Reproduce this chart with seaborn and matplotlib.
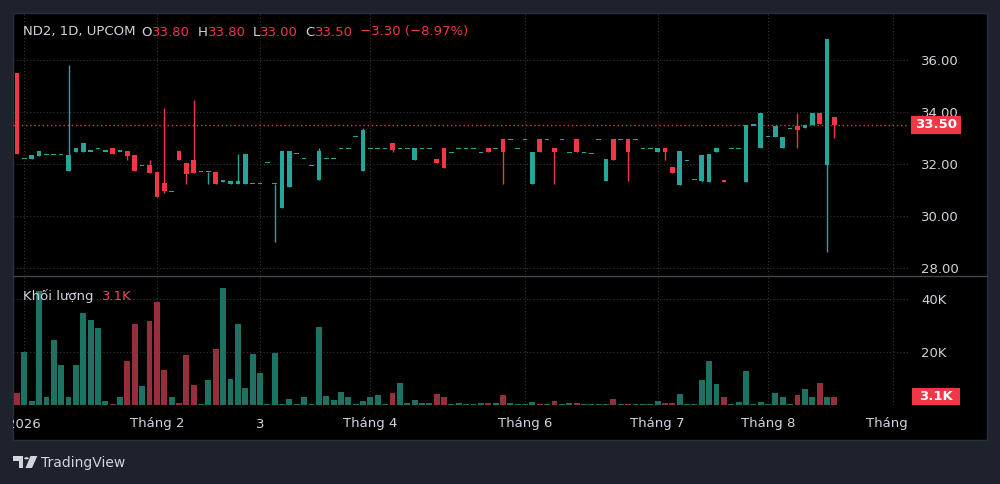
import numpy as np
import pandas as pd
import matplotlib
matplotlib.use("Agg")
import matplotlib.pyplot as plt
import matplotlib.transforms as mtransforms
from matplotlib.patches import Rectangle, Polygon, Circle
from matplotlib.lines import Line2D
from matplotlib.text import Annotation
import seaborn as sns

# ---------------- data ----------------
opens = [35.50, 32.20, 32.20, 32.30, 32.35, 32.35, 32.35, 31.75, 32.45, 32.45,
         32.50, 32.60, 32.50, 32.60, 32.50, 32.50, 32.35, 31.95, 31.95, 31.70,
         31.25, 30.95, 32.50, 32.05, 32.15, 31.70, 31.70, 31.70, 31.30, 31.25,
         31.25, 31.25, 31.25, 31.25, 32.05, 31.25, 30.30, 31.10, 32.40, 32.20,
         31.95, 31.40, 32.20, 32.20, 32.60, 32.60, 33.05, 31.75, 32.60, 32.60,
         32.60, 32.80, 32.60, 32.60, 32.15, 32.60, 32.60, 32.20, 32.60, 32.45,
         32.60, 32.60, 32.60, 32.45, 32.60, 32.60, 32.95, 32.95, 32.60, 32.95,
         31.25, 32.95, 32.95, 32.60, 32.95, 32.45, 32.95, 32.45, 32.40, 32.95,
         31.35, 32.95, 32.95, 32.95, 32.95, 32.60, 32.60, 32.45, 32.60, 31.90,
         31.20, 32.15, 31.40, 31.35, 31.30, 32.45, 31.40, 32.60, 32.60, 31.30,
         33.50, 32.60, 33.05, 33.05, 32.60, 33.35, 33.45, 33.40, 33.50, 33.95,
         31.95, 33.80]
highs = [35.50, 32.20, 32.35, 32.50, 32.35, 32.35, 32.35, 35.80, 32.60, 32.80,
         32.50, 32.60, 32.50, 32.60, 32.50, 32.50, 32.35, 31.95, 32.15, 31.70,
         34.15, 30.95, 32.50, 32.05, 34.45, 31.70, 31.70, 31.70, 31.40, 31.35,
         32.40, 32.40, 31.25, 31.25, 32.05, 31.25, 32.50, 32.50, 32.40, 32.20,
         31.95, 32.60, 32.20, 32.20, 32.60, 32.60, 33.05, 33.40, 32.60, 32.60,
         32.60, 32.80, 32.60, 32.60, 32.60, 32.60, 32.60, 32.20, 32.60, 32.45,
         32.60, 32.60, 32.60, 32.45, 32.60, 32.60, 32.95, 32.95, 32.60, 32.95,
         32.45, 32.95, 32.95, 32.60, 32.95, 32.45, 32.95, 32.45, 32.40, 32.95,
         32.20, 32.95, 32.95, 32.95, 32.95, 32.60, 32.60, 32.60, 32.60, 31.90,
         32.50, 32.15, 31.40, 32.35, 32.40, 32.60, 31.40, 32.60, 32.60, 33.50,
         33.50, 33.95, 33.05, 33.45, 33.05, 33.35, 33.95, 33.50, 33.95, 33.95,
         36.80, 33.80]
lows = [32.40, 32.20, 32.20, 32.30, 32.35, 32.35, 32.35, 31.75, 32.45, 32.45,
        32.50, 32.60, 32.50, 32.40, 32.50, 32.15, 31.75, 31.95, 31.65, 30.75,
        30.90, 30.95, 32.15, 31.25, 31.65, 31.70, 31.25, 31.25, 31.30, 31.25,
        31.25, 31.25, 31.25, 31.25, 32.05, 29.00, 30.30, 31.10, 32.40, 32.20,
        31.95, 31.40, 32.20, 32.20, 32.60, 32.60, 33.05, 31.75, 32.60, 32.60,
        32.60, 32.45, 32.60, 32.60, 32.15, 32.60, 32.60, 32.05, 31.85, 32.45,
        32.60, 32.60, 32.60, 32.45, 32.45, 32.60, 31.25, 32.95, 32.60, 32.95,
        31.25, 32.45, 32.95, 31.25, 32.95, 32.45, 32.45, 32.45, 32.40, 32.95,
        31.35, 32.15, 32.95, 31.35, 32.95, 32.60, 32.60, 32.45, 32.15, 31.65,
        31.20, 32.15, 31.40, 31.30, 31.30, 32.45, 31.30, 32.60, 32.60, 31.30,
        33.50, 32.60, 33.05, 33.05, 32.60, 33.35, 32.60, 33.40, 33.50, 33.55,
        28.60, 33.00]
closes = [32.40, 32.20, 32.35, 32.50, 32.35, 32.35, 32.35, 32.35, 32.60, 32.80,
          32.50, 32.60, 32.50, 32.40, 32.50, 32.30, 31.75, 31.95, 31.65, 30.75,
          30.95, 30.95, 32.15, 31.60, 31.65, 31.70, 31.70, 31.25, 31.40, 31.35,
          31.35, 32.40, 31.25, 31.25, 32.05, 31.25, 32.50, 32.50, 32.40, 32.20,
          31.95, 32.50, 32.20, 32.20, 32.60, 32.60, 33.05, 33.30, 32.60, 32.60,
          32.60, 32.55, 32.60, 32.60, 32.60, 32.60, 32.60, 32.05, 31.85, 32.45,
          32.60, 32.60, 32.60, 32.45, 32.45, 32.60, 32.45, 32.95, 32.60, 32.95,
          32.45, 32.45, 32.95, 32.45, 32.95, 32.45, 32.45, 32.45, 32.40, 32.95,
          32.20, 32.15, 32.95, 32.45, 32.95, 32.60, 32.60, 32.60, 32.45, 31.65,
          32.50, 32.15, 31.40, 32.35, 32.40, 32.60, 31.30, 32.60, 32.60, 33.50,
          33.50, 33.95, 33.05, 33.45, 33.05, 33.35, 33.30, 33.50, 33.95, 33.55,
          36.80, 33.50]
volumes_k = [4.7, 20.0, 1.6, 43.0, 3.1, 24.5, 15.0, 3.1, 15.0, 34.6,
             32.1, 28.9, 1.6, 0.3, 2.9, 16.6, 30.4, 7.2, 31.7, 39.0,
             13.2, 2.9, 0.6, 18.7, 7.5, 0.3, 9.4, 21.0, 44.0, 9.8,
             30.6, 6.5, 19.1, 11.9, 0.3, 19.7, 0.3, 2.4, 0.3, 3.1,
             0.3, 29.5, 3.4, 1.9, 4.9, 3.1, 0.3, 1.6, 2.9, 3.9,
             0.3, 4.4, 8.4, 0.9, 1.9, 0.9, 0.9, 4.2, 3.1, 0.3,
             0.9, 0.3, 0.3, 0.6, 0.6, 0.9, 3.6, 0.6, 0.3, 0.3,
             1.1, 0.3, 0.3, 1.6, 0.3, 0.9, 0.9, 0.3, 0.3, 0.3,
             0.3, 2.1, 0.3, 0.4, 0.3, 0.3, 0.3, 1.6, 0.9, 0.9,
             4.3, 0.3, 0.3, 9.4, 16.5, 7.9, 2.9, 0.3, 1.1, 13.0,
             0.3, 1.1, 0.3, 4.7, 2.9, 0.3, 3.6, 5.9, 3.1, 8.4,
             3.1, 3.1]
month_ticks = [1, 19, 33, 48, 69, 87, 102, 119]
month_labels = ["2026", "Tháng 2", "3", "Tháng 4", "Tháng 6", "Tháng 7", "Tháng 8", "Tháng 9"]
price_ticks = [28.0, 30.0, 32.0, 34.0, 36.0]
volume_ticks = [20, 40]
volume_tick_labels = ["20K", "40K"]
last_price = 33.50
last_volume_k = 3.1
header_parts = ["ND2, 1D, UPCOM", "O", "33.80", "H", "33.80", "L", "33.00", "C", "33.50", "−3.30 (−8.97%)"]

# ---------------- style ----------------
sns.set_theme(style="dark")
plt.rcParams['font.family'] = ['DejaVu Sans']

BG = '#1e222d'
PANEL = '#000000'
GRID = '#33363f'
TXT = '#d1d4dc'
UP = '#26a69a'
DOWN = '#f23645'
VUP = '#1e7263'
VDOWN = '#93303c'
FS = 9.5

W, H = 1000, 484
fig = plt.figure(figsize=(10, 4.84), dpi=100, facecolor=BG)
def fx(px): return px / W
def fy(py): return 1 - py / H

fig.patches.append(Rectangle((fx(13), fy(440)), fx(987) - fx(13), fy(13) - fy(440),
                             transform=fig.transFigure, facecolor=PANEL,
                             edgecolor='#2a2e39', lw=1, zorder=-5))

PL, PR = 13, 908
ax_p = fig.add_axes([fx(PL), fy(275), fx(PR) - fx(PL), fy(13) - fy(275)])
ax_v = fig.add_axes([fx(PL), fy(405), fx(PR) - fx(PL), fy(276) - fy(405)], sharex=ax_p)

o = np.array(opens); h = np.array(highs); l = np.array(lows); c = np.array(closes)
idx = np.arange(len(o))
up = c >= o
ccol = np.where(up, UP, DOWN)

# ---- candles
ax_p.vlines(idx, l, h, colors=ccol, lw=1.0, zorder=3)
minh = 0.045
diff = np.abs(c - o)
bh = np.maximum(diff, minh)
bb = np.minimum(o, c) - (bh - diff) / 2
ax_p.bar(idx, bh, bottom=bb, width=0.63, color=ccol, lw=0, zorder=4)
ax_p.axhline(last_price, color=DOWN, lw=1.0, ls=(0, (1, 2)), zorder=2)

# ---- volume with seaborn
vdf = pd.DataFrame({"idx": idx, "vol": volumes_k, "dir": np.where(up, "up", "down")})
sns.barplot(data=vdf, x="idx", y="vol", hue="dir", palette={"up": VUP, "down": VDOWN},
            native_scale=True, dodge=False, width=0.8, saturation=1, legend=False,
            errorbar=None, linewidth=0, ax=ax_v)

XL = ((PL - 17) / 7.363, (PR - 17) / 7.363)
for ax in (ax_p, ax_v):
    ax.set_facecolor('none')
    for s in ax.spines.values():
        s.set_visible(False)
    ax.set_xlabel(""); ax.set_ylabel("")
    ax.grid(True, color=GRID, lw=0.8, ls=(0, (1, 2)))
    ax.set_axisbelow(True)
    ax.yaxis.tick_right()
    ax.tick_params(axis='y', length=0, pad=9.5, labelsize=FS, labelcolor=TXT)
    ax.tick_params(axis='x', length=0)

ax_p.set_xlim(*XL)
ax_p.set_ylim(36 - 215 / 26, 36 + 47 / 26)
ax_p.set_yticks(price_ticks, labels=[f"{v:.2f}" for v in price_ticks])
ax_v.set_ylim(0, 129 / 2.65)
ax_v.set_yticks(volume_ticks, labels=volume_tick_labels)
ax_v.set_xticks(month_ticks, labels=month_labels)
ax_p.tick_params(axis='x', labelbottom=False)
ax_v.tick_params(axis='x', pad=9, labelsize=FS, labelcolor=TXT)
ax_v.set_xlim(*XL)

clipbox = mtransforms.TransformedBbox(mtransforms.Bbox([[0, 0], [1, 1]]),
                                      mtransforms.blended_transform_factory(ax_v.transAxes, fig.transFigure))
for lab in ax_v.get_xticklabels():
    lab.set_clip_box(clipbox)
    lab.set_clip_on(True)

# ---- last value boxes
bt = mtransforms.blended_transform_factory(ax_p.transAxes, ax_p.transData)
axw = PR - PL
ax_p.add_patch(Rectangle(((911 - PL) / axw, last_price - 9 / 26), 50 / axw, 18 / 26,
                         transform=bt, facecolor=DOWN, lw=0, clip_on=False, zorder=6))
ax_p.text((936 - PL) / axw, last_price, f"{last_price:.2f}", transform=bt, ha='center', va='center',
          color='white', fontsize=FS, fontweight='bold', clip_on=False, zorder=7)
btv = mtransforms.blended_transform_factory(ax_v.transAxes, ax_v.transData)
ax_v.add_patch(Rectangle(((912 - PL) / axw, last_volume_k - 8.5 / 2.65), 48 / axw, 17 / 2.65,
                         transform=btv, facecolor=DOWN, lw=0, clip_on=False, zorder=6))
ax_v.text((936 - PL) / axw, last_volume_k, f"{last_volume_k}K", transform=btv, ha='center', va='center',
          color='white', fontsize=FS, fontweight='bold', clip_on=False, zorder=7)

# ---- pane separator
fig.lines.append(Line2D([fx(13), fx(987)], [fy(275.5), fy(275.5)], transform=fig.transFigure,
                        color='#434651', lw=1))

# ---- header (laid out piece after piece)
hc = [TXT, TXT, DOWN, TXT, DOWN, TXT, DOWN, TXT, DOWN, DOWN]
gaps_px = [0, 6, 0, 8, 0, 7, 0, 8, 0, 7]
prev_t = fig.text(fx(23), fy(32), header_parts[0], color=hc[0], fontsize=FS, va='center', ha='left')
for t, col, g in zip(header_parts[1:], hc[1:], gaps_px[1:]):
    prev_t = fig.add_artist(Annotation(
        t, xy=(1, 0.5), xycoords=prev_t, xytext=(g * 0.72, 0), textcoords='offset points',
        color=col, fontsize=FS, va='center', ha='left'))

fig.text(fx(23), fy(296), "Khối lượng", color=TXT, fontsize=FS, va='center', ha='left')
fig.text(fx(102), fy(296), f"{last_volume_k}K", color='#e0505c', fontsize=FS, va='center', ha='left')

# ---- TradingView mark
LC = '#d1d4dc'
def prect(x0, y0, x1, y1):
    fig.patches.append(Rectangle((fx(x0), fy(y1)), fx(x1) - fx(x0), fy(y0) - fy(y1),
                                 transform=fig.transFigure, facecolor=LC, lw=0))
prect(13, 456, 23, 460.5)
prect(18.5, 456, 23, 468)
fig.patches.append(Circle((fx(26.5), fy(458.3)), 2.3 / W, transform=fig.transFigure, facecolor=LC, lw=0))
fig.patches.append(Polygon([(fx(30.5), fy(456)), (fx(37.3), fy(456)), (fx(32), fy(468)), (fx(25.5), fy(468))],
                           closed=True, transform=fig.transFigure, facecolor=LC, lw=0))
fig.text(fx(41), fy(462.5), "TradingView", color=LC, fontsize=10, va='center', ha='left')

fig.savefig("out.png", dpi=100, facecolor=BG)
